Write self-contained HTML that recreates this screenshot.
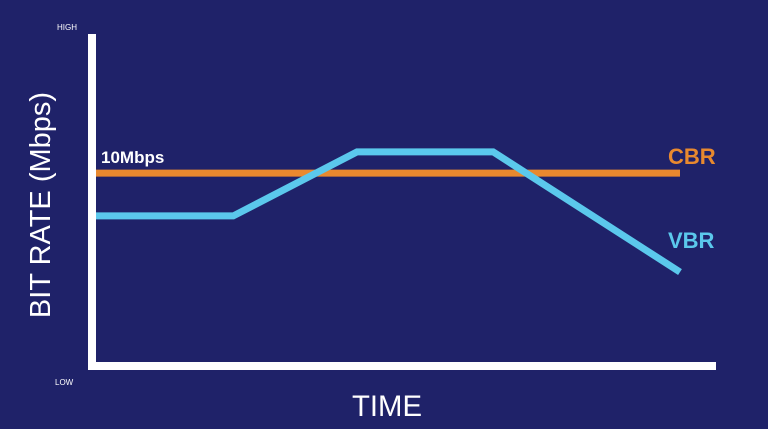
<!DOCTYPE html>
<html><head><meta charset="utf-8"><style>
html,body{margin:0;padding:0;background:#1f2269;}
svg{display:block;font-family:"Liberation Sans",sans-serif;}
</style></head><body>
<svg width="768" height="429" viewBox="0 0 768 429">
<rect width="768" height="429" fill="#1f2269"/>
<g id="marks"></g>
<rect x="88" y="34" width="8" height="336" fill="#fff"/>
<rect x="88" y="362" width="628" height="8" fill="#fff"/>
<text x="57" y="30" font-size="8" fill="#fff">HIGH</text>
<text x="55" y="385" font-size="8" fill="#fff">LOW</text>
<text x="387" y="416" font-size="30" fill="#fff" text-anchor="middle" textLength="70" lengthAdjust="spacingAndGlyphs">TIME</text>
<text transform="translate(50,205) rotate(-90)" font-size="29" fill="#fff" text-anchor="middle">BIT RATE (Mbps)</text>
<text x="101" y="163" font-size="17" font-weight="bold" fill="#fff">10Mbps</text>
<text x="668" y="164" font-size="22" font-weight="bold" fill="#e8892f">CBR</text>
<text x="668" y="248" font-size="22" font-weight="bold" fill="#5bc8ec">VBR</text>
</svg>
<script>
const cbrTimes=[0,10];
const cbrValues=[58.1,58.1];
const vbrTimes=[0,2.35,4.47,6.8,10];
const vbrValues=[45.2,45.2,64.5,64.5,28.3];
function xScale(t){return 96+t*58.4;}
function yScale(v){return 366-v*3.32;}
const g=document.getElementById('marks');
function line(ts,vs,color,name){
  const p=document.createElementNS('http://www.w3.org/2000/svg','polyline');
  p.setAttribute('points',ts.map((t,i)=>xScale(t)+','+yScale(vs[i])).join(' '));
  p.setAttribute('fill','none');p.setAttribute('stroke',color);
  p.setAttribute('stroke-width','7');
  
  
  g.appendChild(p);
}
line(cbrTimes,cbrValues,'#e8892f','cbr-line');
line(vbrTimes,vbrValues,'#5bc8ec','vbr-line');
</script>
</body></html>
